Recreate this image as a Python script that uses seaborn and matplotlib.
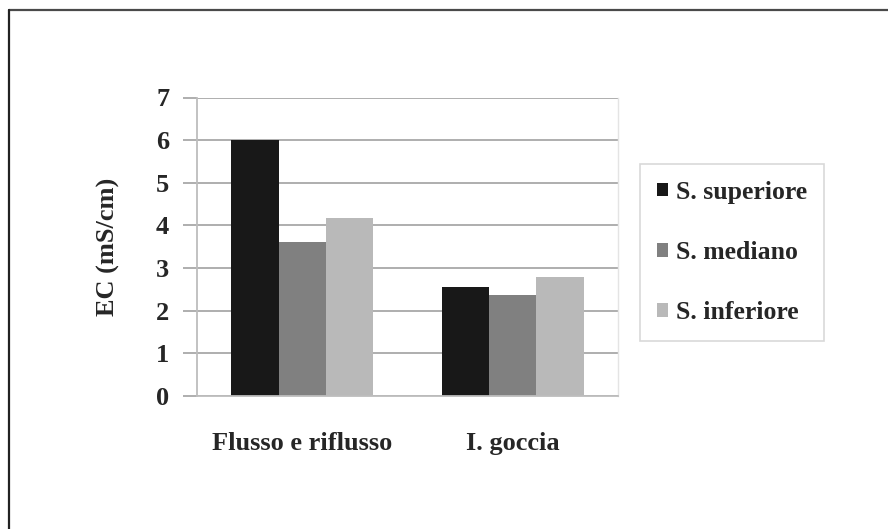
import matplotlib
matplotlib.use("Agg")
import matplotlib.pyplot as plt
from matplotlib.patches import Rectangle
from matplotlib.lines import Line2D
import seaborn as sns
import pandas as pd

# Electrical conductivity by system and substrate layer
systems = ["Flusso e riflusso", "I. goccia"]
layers = ["S. superiore", "S. mediano", "S. inferiore"]
ec_superiore = [6.0, 2.56]
ec_mediano = [3.62, 2.38]
ec_inferiore = [4.17, 2.80]
y_ticks = [0, 1, 2, 3, 4, 5, 6, 7]

colors = ["#181818", "#808080", "#b9b9b9"]

rows = []
for layer, vals in zip(layers, [ec_superiore, ec_mediano, ec_inferiore]):
    for s, v in zip(systems, vals):
        rows.append({"sistema": s, "strato": layer, "EC": v})
df = pd.DataFrame(rows)

sns.set_theme(style="white")
plt.rcParams["font.family"] = ["Liberation Serif", "DejaVu Serif"]
plt.rcParams["font.weight"] = "bold"

fig = plt.figure(figsize=(8.88, 5.29), dpi=100)
ax = fig.add_axes([197 / 888, 1 - 396 / 529, (618 - 197) / 888, (396 - 97.5) / 529])

sns.barplot(data=df, x="sistema", y="EC", hue="strato", order=systems,
            hue_order=layers, palette=colors, width=0.673, saturation=1,
            edgecolor="none", linewidth=0, ax=ax, legend=False)

ax.set_ylim(0, 7)
ax.set_xlim(-0.5, 1.5)
ax.set_yticks(y_ticks)
ax.set_yticklabels([str(t) for t in y_ticks], fontsize=19, fontweight="bold")
ax.set_xticks([0, 1])
ax.set_xticklabels(systems, fontsize=19, fontweight="bold")
ax.set_xticks([-0.5, 0.5, 1.5], minor=True)
ax.tick_params(axis="x", which="major", length=0, pad=26)
ax.tick_params(axis="x", which="minor", length=8, width=1.2, color="#bdbdbd", direction="out")
ax.tick_params(axis="y", length=10, width=1.3, color="#a8a8a8", pad=10, direction="out", left=True)
ax.set_xlabel("")
ax.set_ylabel("EC (mS/cm)", fontsize=19, fontweight="bold", labelpad=26)

ax.yaxis.grid(True, color="#a8a8a8", linewidth=1.3)
ax.set_axisbelow(True)
for side in ["left", "bottom"]:
    ax.spines[side].set_color("#bdbdbd")
    ax.spines[side].set_linewidth(1.3)
ax.spines["right"].set_color("#e4e4e4")
ax.spines["right"].set_linewidth(1.0)
ax.spines["top"].set_visible(False)

handles = [Rectangle((0, 0), 1, 1, facecolor=c, edgecolor="none") for c in colors]
leg = fig.legend(handles, layers, loc="center left",
                 bbox_to_anchor=(640 / 888, 1 - 252.5 / 529),
                 prop={"family": "Liberation Serif", "weight": "bold", "size": 18.5},
                 frameon=True, fancybox=False, edgecolor="#cfcfcf",
                 handlelength=0.45, handleheight=0.45, handletextpad=0.3,
                 labelspacing=1.45, borderpad=0.65, borderaxespad=0)
leg.get_frame().set_linewidth(1.2)

# page frame along the top and left edges
fig.add_artist(Line2D([8.5 / 888, 1.0], [1 - 9.5 / 529, 1 - 9.5 / 529],
                      transform=fig.transFigure, color="#4a4a4a", linewidth=1.6))
fig.add_artist(Line2D([8.5 / 888, 8.5 / 888], [0, 1 - 9.5 / 529],
                      transform=fig.transFigure, color="#222222", linewidth=1.6))

fig.savefig("out.png", dpi=100)
